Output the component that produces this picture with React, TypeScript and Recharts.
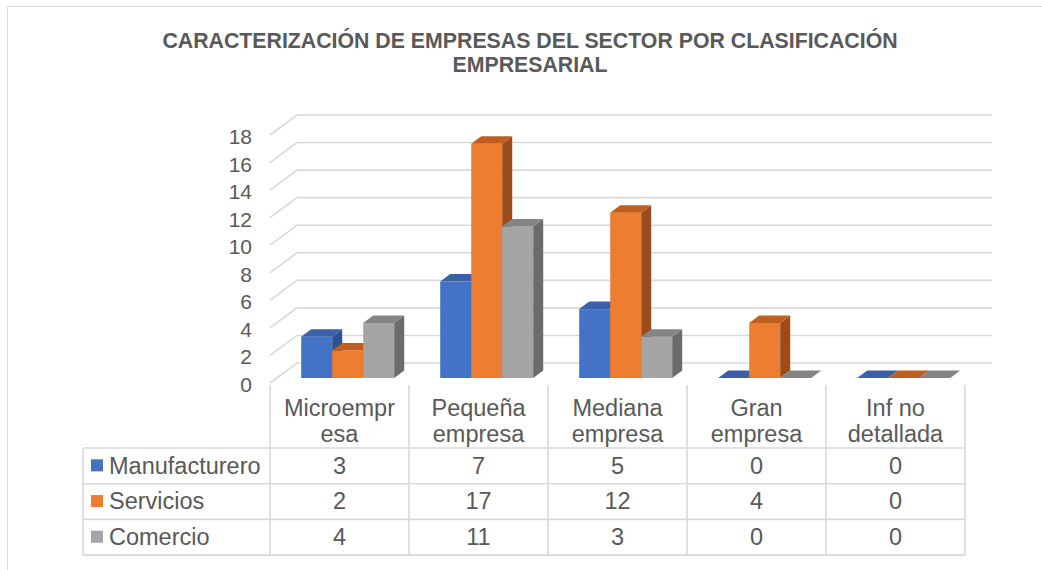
import React from "react";
import { BarChart, Bar, XAxis, YAxis, CartesianGrid } from "recharts";

const categories = ["Microempresa", "Pequeña empresa", "Mediana empresa", "Gran empresa", "Inf no detallada"];
const categoryLines = [["Microempr", "esa"], ["Pequeña", "empresa"], ["Mediana", "empresa"], ["Gran", "empresa"], ["Inf no", "detallada"]];
const manufacturero = [3, 7, 5, 0, 0];
const servicios = [2, 17, 12, 4, 0];
const comercio = [4, 11, 3, 0, 0];
const yTicks = [0, 2, 4, 6, 8, 10, 12, 14, 16, 18];
const titleLines = ["CARACTERIZACIÓN DE EMPRESAS DEL SECTOR POR CLASIFICACIÓN", "EMPRESARIAL"];

const seriesList = [
  { key: "manufacturero", name: "Manufacturero", values: manufacturero, front: "#4472C4", top: "#3A61A8", side: "#2F5090" },
  { key: "servicios", name: "Servicios", values: servicios, front: "#ED7D31", top: "#BE5F20", side: "#9C4C1A" },
  { key: "comercio", name: "Comercio", values: comercio, front: "#A5A5A5", top: "#848484", side: "#6B6B6B" },
];

const data = categories.map((c, i) => ({
  name: c,
  idx: i,
  manufacturero: manufacturero[i],
  servicios: servicios[i],
  comercio: comercio[i],
}));

const FONT = "'Liberation Sans', Arial, sans-serif";
const TEXT = "#595959";
const LINE = "#d9d9d9";
const DEPTH_X = 27;
const DEPTH_Y = -20;
const BAR_SHIFT_X = 8;
const BAR_SHIFT_Y = -5;
const BAR_DX = 10;
const BAR_DY = -7.5;

const makeShape = (s: any) => (props: any) => {
  const { x, y, width, height } = props;
  const fx = x + BAR_SHIFT_X;
  const fy = y + BAR_SHIFT_Y;
  const w = width;
  const h = Math.max(0, height);
  const topPts = `${fx},${fy} ${fx + BAR_DX},${fy + BAR_DY} ${fx + w + BAR_DX},${fy + BAR_DY} ${fx + w},${fy}`;
  const sidePts = `${fx + w},${fy} ${fx + w + BAR_DX},${fy + BAR_DY} ${fx + w + BAR_DX},${fy + h + BAR_DY} ${fx + w},${fy + h}`;
  return (
    <g>
      {h > 0 && <rect x={fx} y={fy} width={w} height={h} fill={s.front} />}
      {h > 0 && <polygon points={sidePts} fill={s.side} />}
      <polygon points={topPts} fill={s.top} />
    </g>
  );
};

const gridLine = (props: any) => {
  const { x1, y1, x2, key } = props;
  return (
    <polyline
      key={key}
      points={`${x1},${y1} ${x1 + DEPTH_X},${y1 + DEPTH_Y} ${x2 + DEPTH_X},${y1 + DEPTH_Y}`}
      fill="none"
      stroke={LINE}
      strokeWidth={1.6}
    />
  );
};

const YTick = (props: any) => {
  const { x, y, payload } = props;
  return (
    <text x={x} y={y} dy={9} textAnchor="end" fontSize={21} fill={TEXT} fontFamily={FONT}>
      {payload.value}
    </text>
  );
};

const TABLE_LEFT = 83;
const HEADER_TOP = 385;
const ROWS_TOP = 448;
const ROW_H = 35.7;
const TABLE_FONT = 23.5;

const XTick = (props: any) => {
  const { payload } = props;
  const cx = payload.coordinate;
  const half = payload.offset;
  const i = payload.index;
  const left = cx - half;
  const right = cx + half;
  const bottom = ROWS_TOP + ROW_H * seriesList.length;
  const lines = categoryLines[i];
  return (
    <g>
      <line x1={left} y1={HEADER_TOP} x2={left} y2={bottom} stroke={LINE} strokeWidth={1.6} />
      {i === categories.length - 1 && (
        <line x1={right} y1={HEADER_TOP} x2={right} y2={bottom} stroke={LINE} strokeWidth={1.6} />
      )}
      {lines.map((t, k) => (
        <text key={k} x={cx} y={416 + k * 26} textAnchor="middle" fontSize={TABLE_FONT} fill={TEXT} fontFamily={FONT}>
          {t}
        </text>
      ))}
      {seriesList.map((s, r) => (
        <g key={s.key}>
          <line x1={left} y1={ROWS_TOP + r * ROW_H} x2={right} y2={ROWS_TOP + r * ROW_H} stroke={LINE} strokeWidth={1.6} />
          <text x={cx} y={ROWS_TOP + r * ROW_H + 25.5} textAnchor="middle" fontSize={TABLE_FONT} fill={TEXT} fontFamily={FONT}>
            {s.values[i]}
          </text>
        </g>
      ))}
      <line x1={left} y1={bottom} x2={right} y2={bottom} stroke={LINE} strokeWidth={1.6} />
      {i === 0 && (
        <g>
          <line x1={TABLE_LEFT} y1={ROWS_TOP} x2={TABLE_LEFT} y2={bottom} stroke={LINE} strokeWidth={1.6} />
          {seriesList.map((s, r) => (
            <g key={s.key}>
              <line x1={TABLE_LEFT} y1={ROWS_TOP + r * ROW_H} x2={left} y2={ROWS_TOP + r * ROW_H} stroke={LINE} strokeWidth={1.6} />
              <rect x={TABLE_LEFT + 8} y={ROWS_TOP + r * ROW_H + ROW_H / 2 - 6.5} width={12} height={12} fill={s.front} />
              <text x={TABLE_LEFT + 26} y={ROWS_TOP + r * ROW_H + 25.5} fontSize={TABLE_FONT} fill={TEXT} fontFamily={FONT}>
                {s.name}
              </text>
            </g>
          ))}
          <line x1={TABLE_LEFT} y1={bottom} x2={left} y2={bottom} stroke={LINE} strokeWidth={1.6} />
        </g>
      )}
    </g>
  );
};

export default function App() {
  return (
    <div style={{ position: "absolute", left: 0, top: 0, width: 1042, height: 570, background: "#fff", overflow: "hidden" }}>
      <div
        style={{
          position: "absolute",
          left: 7,
          top: 6,
          width: 1100,
          height: 700,
          borderLeft: `1.6px solid ${LINE}`,
          borderTop: `1.6px solid ${LINE}`,
        }}
      />
      <div
        style={{
          position: "absolute",
          left: 130,
          top: 28.5,
          width: 800,
          textAlign: "center",
          fontFamily: FONT,
          fontWeight: "bold",
          fontSize: 21.3,
          lineHeight: "24px",
          color: TEXT,
          whiteSpace: "nowrap",
        }}
      >
        {titleLines.map((t, k) => (
          <div key={k}>{t}</div>
        ))}
      </div>
      <div style={{ position: "absolute", left: 0, top: 0 }}>
        <BarChart
          width={1042}
          height={570}
          data={data}
          margin={{ top: 135, right: 77, bottom: 0, left: 0 }}
          barCategoryGap="16.7%"
          barGap={0}
        >
          <CartesianGrid vertical={false} horizontal={gridLine} />
          <YAxis
            type="number"
            domain={[0, 18]}
            ticks={yTicks}
            width={270}
            axisLine={false}
            tickLine={false}
            tickSize={0}
            tickMargin={18}
            tick={<YTick />}
            interval={0}
          />
          <XAxis
            dataKey="name"
            height={187}
            axisLine={false}
            tickLine={false}
            tickSize={0}
            tickMargin={0}
            interval={0}
            tick={<XTick />}
          />
          {seriesList.map((s) => (
            <Bar key={s.key} dataKey={s.key} name={s.name} fill={s.front} isAnimationActive={false} shape={makeShape(s)} />
          ))}
        </BarChart>
      </div>
    </div>
  );
}
